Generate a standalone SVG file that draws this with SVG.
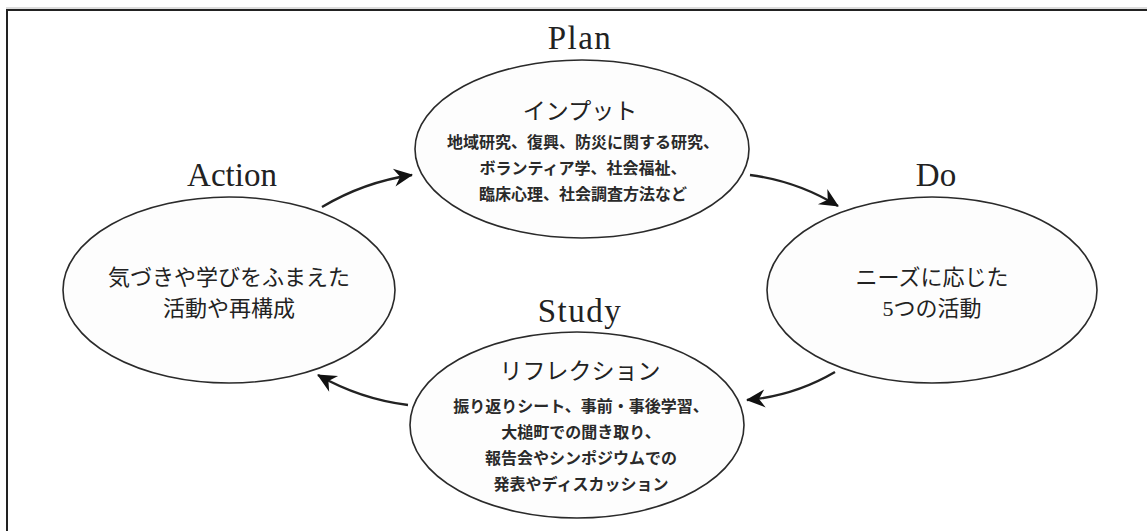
<svg xmlns="http://www.w3.org/2000/svg" width="1147" height="531" viewBox="0 0 1147 531">
<style>
.bg{fill:#ffffff}
.frame{stroke:#222;stroke-width:2;fill:none}
.frame2{stroke:#bbb;stroke-width:1;fill:none}
.node{fill:#fdfdfd;stroke:#2a2a2a;stroke-width:1.6}
.lbl{font-family:"Liberation Serif","Times New Roman",serif;font-size:33px;fill:#222;text-anchor:middle}
.sp{letter-spacing:1.5px}
.head{font-family:"Liberation Serif","Noto Sans CJK JP",serif;font-size:23px;fill:#222;text-anchor:middle}
.body{font-family:"Noto Sans CJK JP",sans-serif;font-size:16px;font-weight:bold;fill:#2a2a2a;text-anchor:middle}
.main{font-family:"Liberation Serif","Noto Sans CJK JP",serif;font-size:22px;fill:#222;text-anchor:middle}
.conn{fill:none;stroke:#222;stroke-width:2.4}
</style>
<defs>
<marker id="ah" viewBox="0 0 20 20" markerWidth="20" markerHeight="20" markerUnits="userSpaceOnUse" refX="19" refY="10" orient="auto">
<path d="M1,1 L20,10 L1,19 L7,10 z" fill="#111"/>
</marker>
</defs>
<rect class="bg" x="0" y="0" width="1147" height="531"/>
<path class="frame2" d="M6,8 H1147"/>
<path class="frame" d="M7,531 V10 H1147"/>
<g id="connectors">
<path class="conn" d="M322,207 Q364,182 412,175" marker-end="url(#ah)"/>
<path class="conn" d="M750,175 Q797,181 838,206" marker-end="url(#ah)"/>
<path class="conn" d="M835,372 Q794,396 747,400" marker-end="url(#ah)"/>
<path class="conn" d="M408,405 Q360,399 318,375" marker-end="url(#ah)"/>
</g>
<g id="plan">
<text class="lbl sp" x="580" y="49">Plan</text>
<ellipse class="node" cx="582" cy="149" rx="167" ry="89"/>
<text class="head" x="580" y="119">インプット</text>
<text class="body" x="583" y="148">地域研究、復興、防災に関する研究、</text>
<text class="body" x="583" y="174">ボランティア学、社会福祉、</text>
<text class="body" x="583" y="200">臨床心理、社会調査方法など</text>
</g>
<g id="do">
<text class="lbl" x="936" y="186">Do</text>
<ellipse class="node" cx="932" cy="290" rx="165" ry="93"/>
<text class="main" x="932" y="285">ニーズに応じた</text>
<text class="main" x="932" y="316">5つの活動</text>
</g>
<g id="study">
<text class="lbl sp" x="580" y="322">Study</text>
<ellipse class="node" cx="577" cy="425" rx="167" ry="93"/>
<text class="head" x="580" y="379">リフレクション</text>
<text class="body" x="581" y="412">振り返りシート、事前・事後学習、</text>
<text class="body" x="581" y="438">大槌町での聞き取り、</text>
<text class="body" x="581" y="464">報告会やシンポジウムでの</text>
<text class="body" x="581" y="490">発表やディスカッション</text>
</g>
<g id="action">
<text class="lbl" x="232" y="186">Action</text>
<ellipse class="node" cx="229" cy="290" rx="166" ry="93"/>
<text class="main" x="229" y="285">気づきや学びをふまえた</text>
<text class="main" x="229" y="316">活動や再構成</text>
</g>
</svg>
